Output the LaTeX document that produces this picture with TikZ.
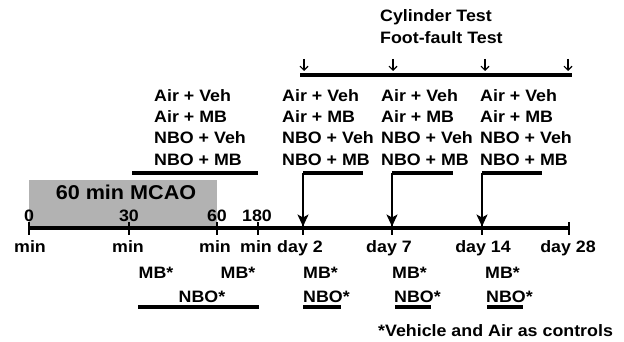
\documentclass[tikz,border=0pt]{standalone}
\usepackage{fontspec}
\setmainfont{Liberation Sans}[FakeStretch=1.08]
\usetikzlibrary{arrows.meta}
\begin{document}
\begin{tikzpicture}[x=1pt,y=-1pt,
  lbl/.style={font=\fontsize{16.5}{18}\selectfont\bfseries, inner sep=0pt, anchor=base},
  lblw/.style={lbl, anchor=base west},
  bar/.style={line width=4pt},
  uline/.style={line width=3.2pt},
  axisline/.style={line width=3.5pt},
  tickmark/.style={line width=2pt},
  varr/.style={line width=1.8pt, shorten >=1.5pt, -{Stealth[length=12pt,width=11pt,inset=3pt]}},
  sarr/.style={line width=1.1pt, -{Straight Barb[length=4pt,width=8pt]}}]
\useasboundingbox (0,0) rectangle (624,342);
% MCAO box
\fill[black!30] (29,180) rectangle (217,227);
\node[lbl, font=\fontsize{20}{22}\selectfont\bfseries] (mcao) at (126,199) {60 min MCAO};
% axis coordinates
\coordinate (t0) at (29,228);
\coordinate (t30) at (129,228);
\coordinate (t60) at (217,228);
\coordinate (t180) at (258,228);
\coordinate (d2) at (303,228);
\coordinate (d7) at (392,228);
\coordinate (d14) at (482,228);
\coordinate (d28) at (569,228);
\draw[axisline] (t0) -- (d28);
\foreach \c in {t0,t30,t60,t180,d2,d7,d14,d28}
  \draw[tickmark] (\c) ++(0,-6) -- ++(0,13);
% labels above axis
\node[lbl] (l0) at (29,222) {0};
\node[lbl] (l30) at (129,222) {30};
\node[lbl] (l60) at (217,222) {60};
\node[lbl] (l180) at (257,222) {180};
% labels below axis
\node[lbl] (m0) at (30,252) {min};
\node[lbl] (m30) at (128,252) {min};
\node[lbl] (m60) at (215,252) {min};
\node[lbl] (m180) at (256,252) {min};
\node[lbl] (ld2) at (300,252) {day 2};
\node[lbl] (ld7) at (389,252) {day 7};
\node[lbl] (ld14) at (483,252) {day 14};
\node[lbl] (ld28) at (568,252) {day 28};
% MB* row
\node[lbl] (mb1) at (156,278) {MB*};
\node[lbl] (mb2) at (238,278) {MB*};
\node[lblw] (mb3) at (303,278) {MB*};
\node[lblw] (mb4) at (392,278) {MB*};
\node[lblw] (mb5) at (485,278) {MB*};
% NBO* row
\node[lbl] (nbo1) at (202,302) {NBO*};
\node[lblw] (nbo2) at (303,302) {NBO*};
\node[lblw] (nbo3) at (394,302) {NBO*};
\node[lblw] (nbo4) at (486,302) {NBO*};
\draw[uline] (138,307) -- (259,307);
\draw[uline] (303,307) -- (341,307);
\draw[uline] (395,307) -- (431,307);
\draw[uline] (487,307) -- (523,307);
\node[lblw] (note) at (378,336) {*Vehicle and Air as controls};
% treatment groups
\foreach \g/\x in {g1/154,g2/282,g3/381,g4/480}{
  \node[lblw] (\g a) at (\x,102) {Air + Veh};
  \node[lblw] (\g b) at (\x,123) {Air + MB};
  \node[lblw] (\g c) at (\x,144) {NBO + Veh};
  \node[lblw] (\g d) at (\x,166) {NBO + MB};
}
% bars under groups
\coordinate (b1l) at (132,173); \coordinate (b1r) at (258,173);
\coordinate (b2l) at (303,173); \coordinate (b2r) at (363,173);
\coordinate (b3l) at (392,173); \coordinate (b3r) at (453,173);
\coordinate (b4l) at (482,173); \coordinate (b4r) at (542,173);
\draw[bar] (b1l) -- (b1r);
\draw[bar] (b2l) -- (b2r);
\draw[bar] (b3l) -- (b3r);
\draw[bar] (b4l) -- (b4r);
\draw[varr] (b2l) -- (d2);
\draw[varr] (b3l) -- (d7);
\draw[varr] (b4l) -- (d14);
% behavioural tests
\node[lblw] (cyl) at (380,22) {Cylinder Test};
\node[lblw] (ff) at (380,44) {Foot-fault Test};
\coordinate (tbl) at (300,75); \coordinate (tbr) at (572,75);
\draw[bar] (tbl) -- (tbr);
\foreach \x in {304,393,485,568}
  \draw[sarr] (\x,59) -- (\x,71);
\end{tikzpicture}
\end{document}
